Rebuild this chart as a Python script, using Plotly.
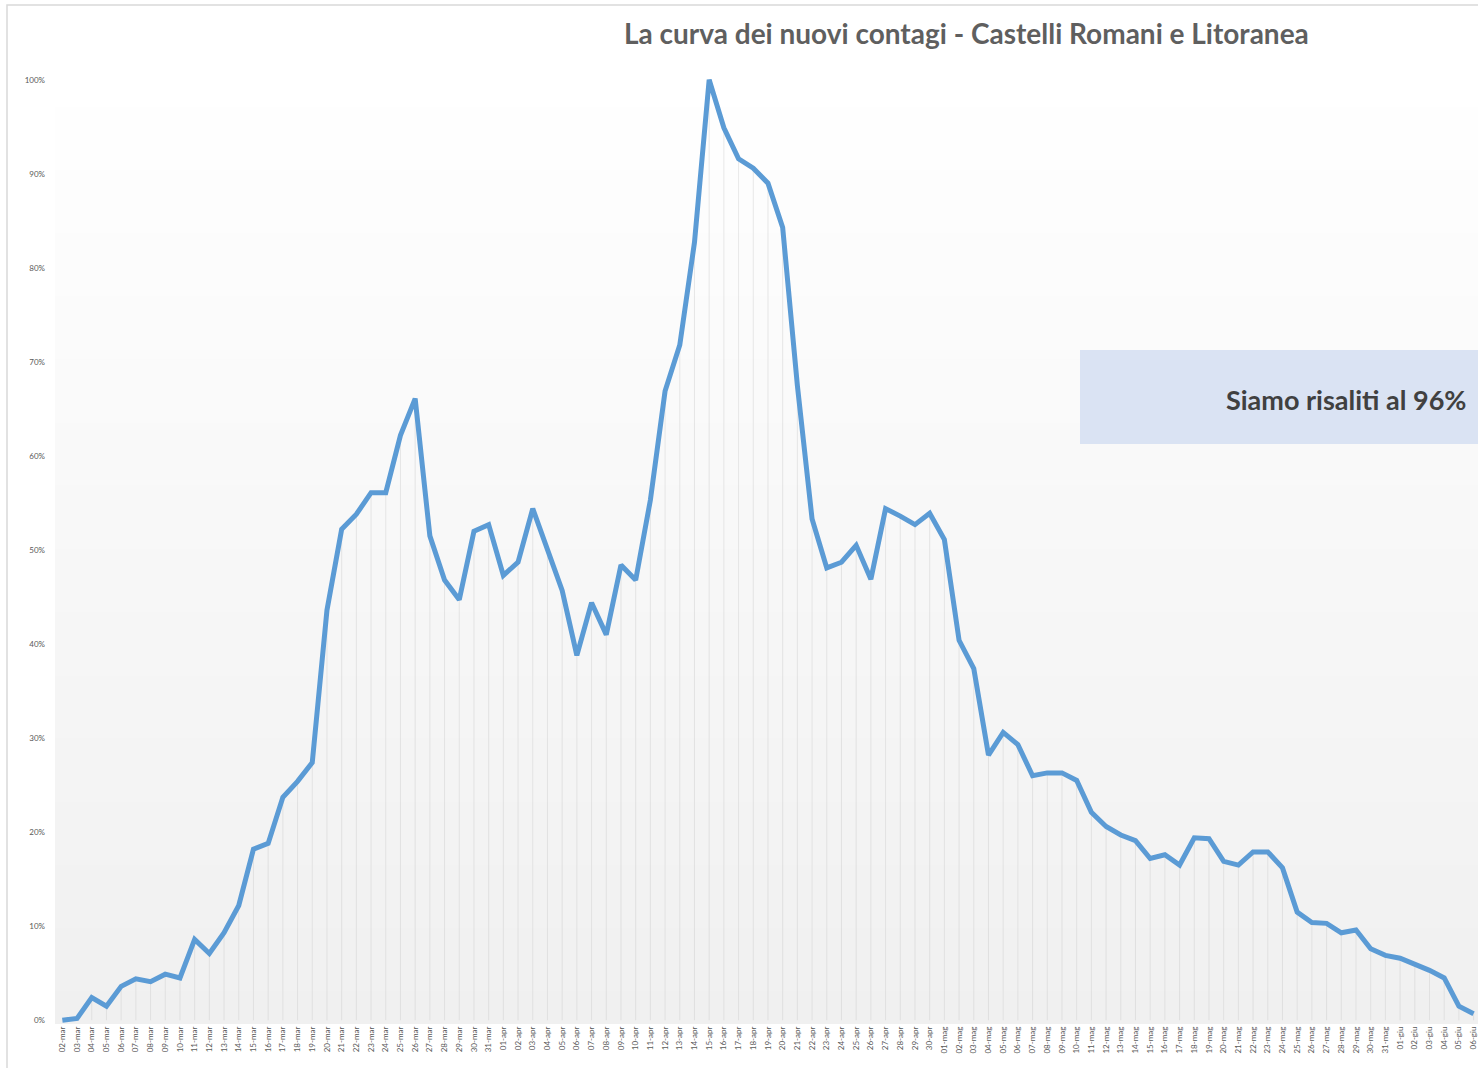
import plotly.graph_objects as go
import pandas as pd

# ---------------- data ----------------
MONTHS_IT = {3: "mar", 4: "apr", 5: "mag", 6: "giu"}
dates = pd.date_range("2020-03-02", "2020-06-06", freq="D")
categories = [f"{d.day:02d}-{MONTHS_IT[d.month]}" for d in dates]

values_pct = [
    0, 0.2, 2.4, 1.5, 3.6, 4.4, 4.1, 4.9, 4.5, 8.6,
    7.1, 9.3, 12.2, 18.2, 18.8, 23.7, 25.4, 27.4, 43.6, 52.2,
    53.8, 56.1, 56.1, 62.2, 66.1, 51.5, 46.8, 44.7, 52.0, 52.7,
    47.3, 48.7, 54.4, 50.2, 45.7, 38.8, 44.4, 41.0, 48.4, 46.8,
    55.3, 66.9, 71.8, 82.7, 100.0, 94.9, 91.6, 90.6, 89.0, 84.3,
    67.5, 53.3, 48.1, 48.7, 50.5, 46.9, 54.4, 53.6, 52.7, 53.9,
    51.1, 40.4, 37.4, 28.2, 30.6, 29.3, 26.0, 26.3, 26.3, 25.5,
    22.1, 20.6, 19.7, 19.1, 17.2, 17.6, 16.5, 19.4, 19.3, 16.9,
    16.5, 17.9, 17.9, 16.2, 11.5, 10.4, 10.3, 9.3, 9.6, 7.6,
    6.9, 6.6, 6.0, 5.3, 4.5, 1.5, 0.7,
]
values = [v / 100 for v in values_pct]
assert len(values) == len(categories)

title_text = "La curva dei nuovi contagi - Castelli Romani e Litoranea"
box_text = "Siamo risaliti al 96%"

# ---------------- layout geometry ----------------
W, H = 1478, 1068
ML, MR, MT, MB = 55, 0, 76, 44
PW, PH = W - ML - MR, H - MT - MB


def px_x(px):
    return (px - ML) / PW


def px_y(py):
    return (H - MB - py) / PH


fig = go.Figure()

# drop lines from each point to the axis
fig.add_trace(go.Scatter(
    x=categories, y=values, mode="markers",
    marker=dict(size=0.1, color="rgba(0,0,0,0)"),
    error_y=dict(type="data", symmetric=False, array=[0] * len(values),
                 arrayminus=values, width=0, thickness=1,
                 color="rgba(200,200,200,0.4)"),
    hoverinfo="skip", showlegend=False,
))

fig.add_trace(go.Scatter(
    x=categories, y=values, mode="lines",
    line=dict(color="#5b9bd5", width=5),
    showlegend=False,
))

shapes = []
# gradient background of plot area
n = 60
for i in range(n):
    t = (i + 0.5) / n  # 0 top -> 1 bottom
    c = int(round(255 - (255 - 240) * t))
    shapes.append(dict(
        type="rect", xref="paper", yref="paper",
        x0=0, x1=1.01, y0=1 - (i + 1) / n, y1=1 - i / n + 0.001,
        fillcolor=f"rgb({c},{c},{c})", line=dict(width=0), layer="below",
    ))
# outer frame
shapes.append(dict(
    type="rect", xref="paper", yref="paper",
    x0=px_x(7), x1=px_x(1490), y0=px_y(1080), y1=px_y(5),
    line=dict(color="#d9d9d9", width=1.5), fillcolor="rgba(0,0,0,0)",
    layer="below",
))
# annotation box
shapes.append(dict(
    type="rect", xref="paper", yref="paper",
    x0=px_x(1080), x1=px_x(1700), y0=px_y(444), y1=px_y(350),
    fillcolor="#dae3f3", line=dict(width=0), layer="above",
))

annotations = [
    dict(text=title_text, xref="paper", yref="paper",
         x=px_x(966), y=px_y(33), xanchor="center", yanchor="middle",
         showarrow=False,
         font=dict(family="Lato", size=28, color="#5f5f5f", weight="bold")),
    dict(text=box_text, xref="paper", yref="paper",
         x=px_x(1224), y=px_y(399), xanchor="left", yanchor="middle",
         showarrow=False,
         font=dict(family="Lato", size=27, color="#404040", weight="bold")),
]

fig.update_layout(
    width=W, height=H,
    margin=dict(l=ML, r=MR, t=MT, b=MB, pad=0),
    paper_bgcolor="white", plot_bgcolor="rgba(0,0,0,0)",
    shapes=shapes, annotations=annotations,
    xaxis=dict(
        type="category", range=[-0.5, len(categories) - 0.7],
        tickangle=-90, tickfont=dict(family="Lato", size=8, color="#595959"),
        showgrid=False, zeroline=False, showline=False, ticks="",
        automargin=False,
    ),
    yaxis=dict(
        range=[-0.004, 1.004], tickvals=[i / 10 for i in range(11)],
        tickformat=".0%", tickfont=dict(family="Lato", size=8, color="#595959"),
        showgrid=False, zeroline=False, showline=False, ticks="",
        ticklabelstandoff=9, automargin=False,
    ),
    hovermode=False,
)

fig.write_html("out.html", config={"displayModeBar": False},
               post_script="document.body.style.margin='0';")
